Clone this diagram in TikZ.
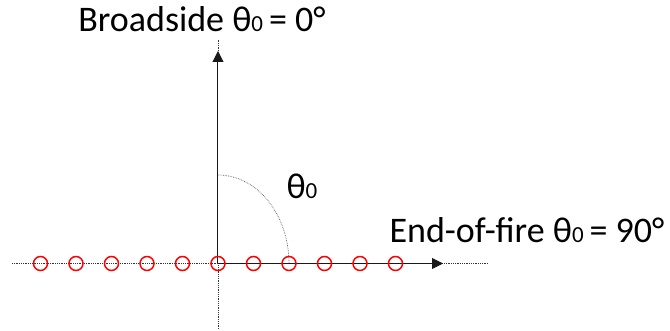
\documentclass[tikz,border=0pt]{standalone}
\usepackage{fontspec}
\setmainfont{Carlito}
\usepackage{xcolor}
\usepackage{tikz}
\usetikzlibrary{arrows.meta,positioning}
\newcommand{\thzero}{θ{\fontsize{23}{23}\selectfont 0}}

\begin{document}
\begin{tikzpicture}[x=1pt,y=1pt,>={Triangle[length=11pt,width=11pt]},
  axisline/.style={line width=1pt,black!90},
  guide/.style={densely dotted,line width=0.8pt,black!80},
  elem/.style={draw=red,line width=1.5pt,circle,minimum size=14pt,inner sep=0pt},
  lbl/.style={font=\fontsize{36}{36}\selectfont,inner sep=0pt}]
\useasboundingbox(-218,-67.5)rectangle(452,263.5);
\coordinate(O)at(0,0);
\coordinate(Xl)at(-206,0);
\coordinate(Xr)at(270,0);
\coordinate(Xt)at(225,0);
\coordinate(Yb)at(0,-66.5);
\coordinate(Yt)at(0,212.5);
\coordinate(Ye)at(0,223.5);
%dotted guides
\draw[guide](Xl)--(Xr);
\draw[guide](O)--(Yb);
\draw[guide](Yt)--(Ye);
%axes
\draw[axisline,->](O)--(Xt);
\draw[axisline,->](O)--(Yt);
%angle
\draw[densely dotted,line width=0.7pt,black!65](0,88.5)arc[start angle=90,end angle=0,x radius=71,y radius=88.5];
\node[lbl](ang)at(84,77){\thzero};
%array elements
\foreach \k in {0,...,10}
  \node[elem](e\k)at({-177.5+35.5*\k},0){};
\node[lbl,anchor=base](bs)at(-16,231.5){Broadside \thzero\,= 0°};
\node[lbl,anchor=base](ef)at(309,20.5){End-of-fire \thzero\,= 90°};
\end{tikzpicture}
\end{document}
